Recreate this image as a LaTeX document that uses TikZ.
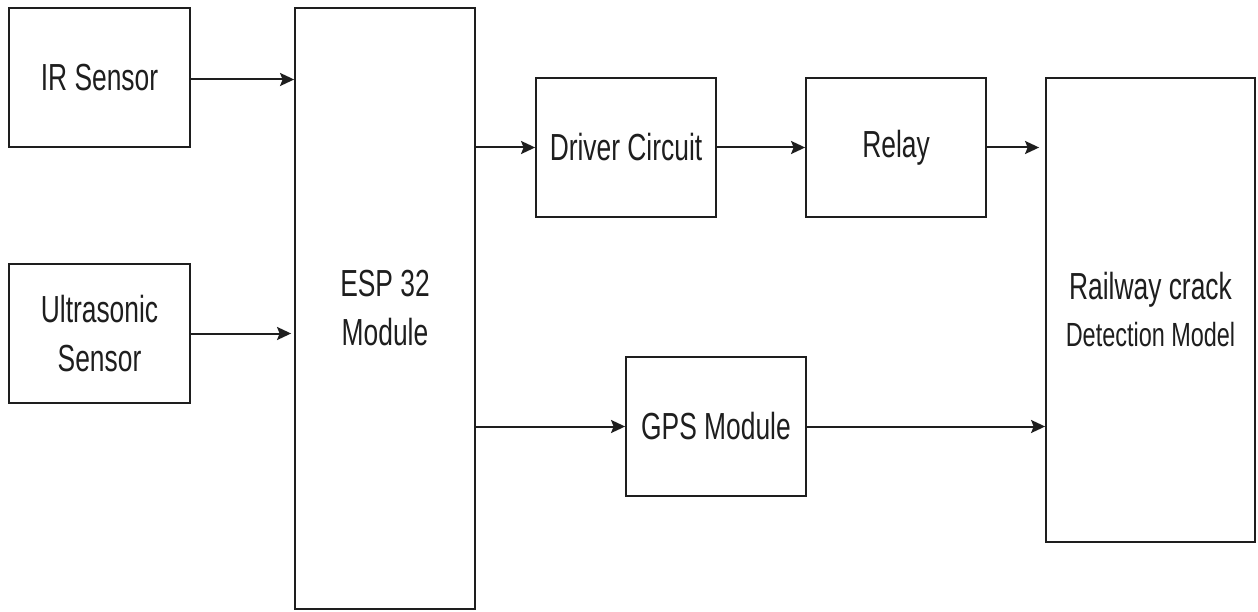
\documentclass[tikz,border=0pt]{standalone}
\usepackage{fontspec}
\setmainfont{Liberation Sans}[FakeStretch=0.70]
\usetikzlibrary{arrows.meta}
\definecolor{ink}{HTML}{1E1E1E}
\tikzset{
  blk/.style={draw=ink, line width=1.8pt, inner sep=0pt, align=center,
    text=ink, font=\fontsize{37.7}{49}\selectfont},
  conn/.style={draw=ink, line width=2pt,
    -{Stealth[length=14pt, width=13pt, inset=2.5pt]}},
}
\begin{document}
\begin{tikzpicture}[x=1pt, y=-1pt]
\useasboundingbox[fill=white] (0,0) rectangle (1258,612);
\node[blk, minimum width=181pt, minimum height=139pt] (ir) at (99.5,77.5) {IR Sensor};
\node[blk, minimum width=181pt, minimum height=139pt] (us) at (99.5,333.5) {Ultrasonic\\Sensor};
\node[blk, minimum width=180pt, minimum height=601pt] (esp) at (385,308.5) {ESP 32\\Module};
\node[blk, minimum width=180pt, minimum height=139pt] (drv) at (626,147.5) {Driver Circuit};
\node[blk, minimum width=180pt, minimum height=139pt] (relay) at (896,147.5) {Relay};
\node[blk, minimum width=180pt, minimum height=139pt] (gps) at (716,426.5) {GPS Module};
\node[blk, minimum width=209pt, minimum height=464pt, font=\fontsize{37.7}{47}\selectfont] (rail) at (1150.5,310)
  {Railway crack\\{\fontsize{33.5}{47}\selectfont Detection Model}};

\draw[conn] ([yshift=-2pt]ir.east) -- ([yshift=-2pt]ir.east -| esp.west);
\draw[conn] (us.east) -- ([xshift=-3pt]us.east -| esp.west);
\draw[conn] (drv.west -| esp.east) -- (drv.west);
\draw[conn] (drv.east) -- (relay.west);
\draw[conn] (relay.east) -- ([xshift=-6pt]relay.east -| rail.west);
\draw[conn] (gps.west -| esp.east) -- (gps.west);
\draw[conn] (gps.east) -- (gps.east -| rail.west);
\end{tikzpicture}
\end{document}
